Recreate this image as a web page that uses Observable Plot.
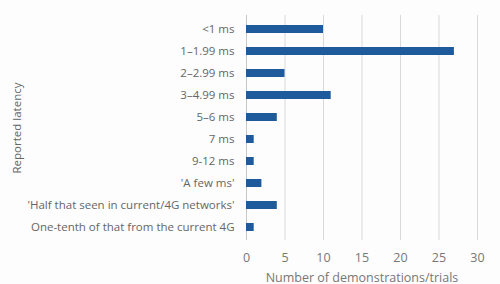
<!DOCTYPE html>
<html>
<head>
<meta charset="utf-8">
<script src="https://cdn.jsdelivr.net/npm/d3@7"></script>
<script src="https://cdn.jsdelivr.net/npm/@observablehq/plot@0.6"></script>
<style>
  html, body { margin: 0; padding: 0; background: #fdfdfd; }
  #chart svg { display: block; background: #fdfdfd; }
</style>
</head>
<body>
<div id="chart"></div>
<script>
const categories = [
  "<1 ms",
  "1\u20131.99 ms",
  "2\u20132.99 ms",
  "3\u20134.99 ms",
  "5\u20136 ms",
  "7 ms",
  "9-12 ms",
  "'A few ms'",
  "'Half that seen in current/4G networks'",
  "One-tenth of that from the current 4G"
];
const counts = [10, 27, 5, 11, 4, 1, 1, 2, 4, 1];
const xTicks = [0, 5, 10, 15, 20, 25, 30];
const xLabel = "Number of demonstrations/trials";
const yLabel = "Reported latency";

const data = categories.map((c, i) => ({category: c, count: counts[i]}));

const chart = Plot.plot({
  width: 500,
  height: 284,
  marginLeft: 246,
  marginRight: 23,
  marginTop: 15,
  marginBottom: 44,
  style: {fontFamily: "'Open Sans', sans-serif", background: "#fdfdfd", color: "#666"},
  x: {domain: [0, 30]},
  y: {domain: categories, paddingInner: 0.64, paddingOuter: 0.32},
  marks: [
    Plot.gridX(xTicks.filter(d => d > 0), {stroke: "#d9d9d9", strokeOpacity: 1}),
    Plot.ruleX([0], {stroke: "#c8c8c8"}),
    Plot.barX(data, {x: "count", y: "category", fill: "#1f5b9c"}),
    Plot.axisX({ticks: xTicks, tickSize: 0, tickPadding: 13, fontSize: 12.5, label: xLabel, labelAnchor: "center", labelArrow: "none", labelOffset: 41, fill: "#777"}),
    Plot.axisY({tickSize: 0, tickPadding: 12, fontSize: 11.5, label: yLabel, labelAnchor: "center", labelArrow: "none", labelOffset: 234, fill: "#666"})
  ]
});
document.getElementById("chart").appendChild(chart);
</script>
</body>
</html>
